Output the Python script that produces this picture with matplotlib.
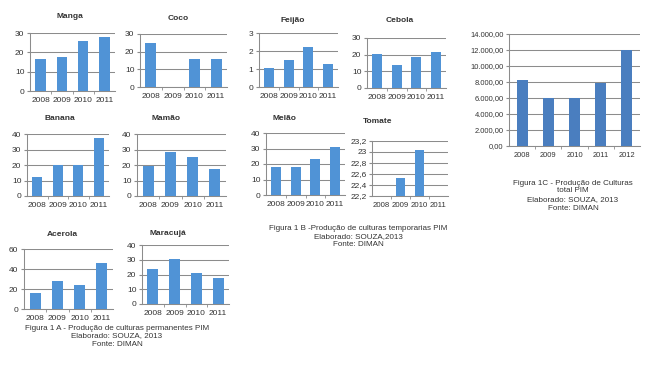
import matplotlib
matplotlib.use("Agg")
import matplotlib.pyplot as plt
from matplotlib.ticker import FuncFormatter

plt.rcParams['font.family'] = ['Liberation Sans', 'DejaVu Sans']

W, H = 646, 365

anos = ["2008", "2009", "2010", "2011"]
anos_total = ["2008", "2009", "2010", "2011", "2012"]

manga = [16.5, 17.7, 25.7, 27.8]
coco = [24.7, 0, 15.8, 16.0]
banana = [12, 20, 20, 37.2]
mamao = [19.4, 28.6, 25, 17.2]
acerola = [16, 27.6, 24.3, 46]
maracuja = [23.5, 30.3, 20.8, 17.4]
feijao = [1.04, 1.5, 2.24, 1.28]
cebola = [20.7, 13.8, 18.7, 21.7]
melao = [18, 18, 23.3, 30.9]
tomate = [0, 22.52, 23.03, 0]
total_pim = [8240, 5940, 6020, 7820, 12000]

AZUL = "#5093d6"
AZUL_ESC = "#4a7ebf"
GRADE = "#8c8c8c"

fig = plt.figure(figsize=(W / 100, H / 100), dpi=100)
fig.patch.set_facecolor("white")


def caixa(l, t, r, b):
    return [l / W, 1 - b / H, (r - l) / W, (b - t) / H]


def virgula(v, _):
    return ("%g" % v).replace(".", ",")


def milhar(v, _):
    s = "{:,.2f}".format(v)
    return s.replace(",", "X").replace(".", ",").replace("X", ".")


def grafico(pos, valores, titulo, tpos, ymin, ymax, passo, cats=anos,
            cor=AZUL, larg=0.5, fmt=None, fs=6):
    ax = fig.add_axes(caixa(*pos))
    x = list(range(len(cats)))
    ax.bar(x, valores, width=larg, color=cor, zorder=3)
    ax.set_xlim(-0.5, len(cats) - 0.5)
    ax.set_ylim(ymin, ymax)
    n = int(round((ymax - ymin) / passo))
    ax.set_yticks([ymin + i * passo for i in range(n + 1)])
    ax.set_xticks(x)
    ax.set_xticklabels(cats)
    ax.set_xticks([i + 0.5 for i in x[:-1]], minor=True)
    ax.tick_params(axis="x", which="major", length=0, pad=4, labelsize=fs,
                   colors="#333333")
    ax.tick_params(axis="x", which="minor", length=2, color=GRADE, direction="out")
    ax.tick_params(axis="y", length=2, color=GRADE, pad=2, labelsize=fs,
                   colors="#333333")
    if fmt is not None:
        ax.yaxis.set_major_formatter(FuncFormatter(fmt))
    ax.grid(axis="y", color=GRADE, linewidth=0.75, zorder=0)
    for lado in ("top", "right"):
        ax.spines[lado].set_visible(False)
    for lado in ("left", "bottom"):
        ax.spines[lado].set_color(GRADE)
        ax.spines[lado].set_linewidth(0.75)
    fig.text(tpos[0] / W, 1 - tpos[1] / H, titulo, ha="center", va="center",
             fontsize=6, fontweight="bold", color="#333333")
    return ax


# Figura 1 A - culturas permanentes
grafico((30, 33, 115, 91), manga, "Manga", (70, 17), 0, 30, 10)
grafico((140, 34, 227, 87), coco, "Coco", (178, 19), 0, 30, 10)
grafico((27, 134, 109, 196), banana, "Banana", (60, 119), 0, 40, 10)
grafico((137, 134, 226, 196), mamao, "Mamão", (166, 118), 0, 40, 10)
grafico((24, 249, 113, 309), acerola, "Acerola", (62, 234), 0, 60, 20)
grafico((142, 245, 229, 304), maracuja, "Maracujá", (168, 233), 0, 40, 10)

# Figura 1 B - culturas temporarias
grafico((259, 33, 338, 87), feijao, "Feijão", (293, 20), 0, 3, 1)
grafico((367, 38, 446, 88), cebola, "Cebola", (400, 20), 0, 30, 10)
grafico((266, 133, 345, 195), melao, "Melão", (284, 118), 0, 40, 10)
ax_t = grafico((372, 141, 448, 196), tomate, "Tomate", (378, 121), 22.2, 23.2, 0.2,
               fmt=virgula)
ax_t.tick_params(axis="x", which="major", pad=4, labelsize=5.6)
for lab in ax_t.get_xticklabels():
    lab.set_fontstretch("condensed")

# Figura 1 C - total
grafico((509, 34, 640, 146), total_pim, "", (0, 0), 0, 14000, 2000,
        cats=anos_total, cor=AZUL_ESC, larg=0.42, fmt=milhar, fs=5.4)


def legenda(x, ys, linhas):
    for y, txt in zip(ys, linhas):
        fig.text(x / W, 1 - y / H, txt, ha="center", va="center",
                 fontsize=5.8, color="#333333")


legenda(117, [328, 336, 344],
        ["Figura 1 A - Produção de culturas permanentes PIM",
         "Elaborado: SOUZA, 2013", "Fonte: DIMAN"])
legenda(358, [229, 237, 245],
        ["Figura 1 B -Produção de culturas temporarias PIM",
         "Elaborado: SOUZA,2013", "Fonte: DIMAN"])
legenda(573, [183, 191, 200, 209],
        ["Figura 1C - Produção de Culturas", "total PIM",
         "Elaborado: SOUZA, 2013", "Fonte: DIMAN"])

fig.savefig("out.png", dpi=100, facecolor="white")
